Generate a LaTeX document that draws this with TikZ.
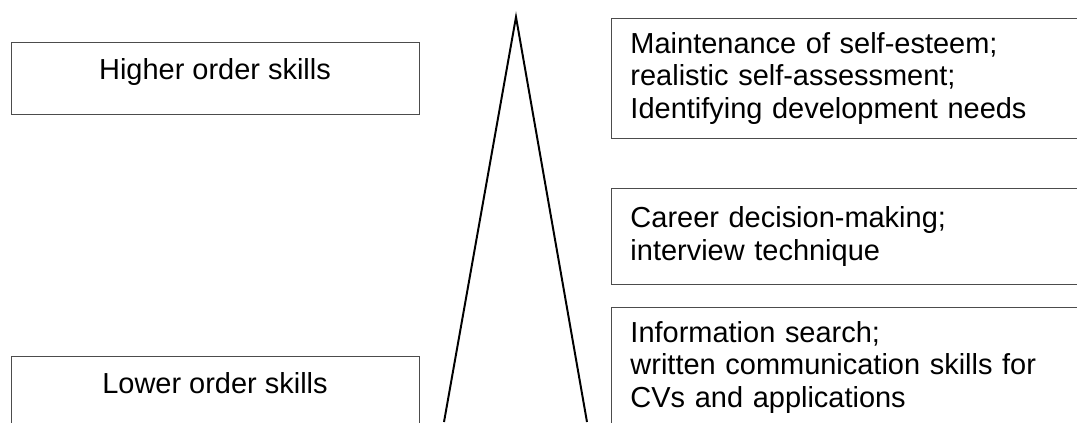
\documentclass[tikz,border=0pt]{standalone}
\usepackage{fontspec}
\setmainfont{Liberation Sans}

\begin{document}
\begin{tikzpicture}[
    level/.style={draw=black!70, line width=0.7pt, rectangle, minimum width=10.2cm, minimum height=1.8cm, inner sep=0pt, text height=0.5cm, text depth=0.45cm, font=\fontsize{20.6}{23.1}\selectfont},
    task/.style={draw=black!70, line width=0.7pt, rectangle, anchor=north west, inner xsep=0.475cm, inner ysep=0pt, text width=11.05cm, align=left, font=\fontsize{20.6}{23.1}\selectfont},
    spine/.style={line width=1.4pt, line join=miter}
]

    % MARCO Y RECORTE
    \useasboundingbox (0,0) rectangle (26.925,10.55);
    \clip (0,0) rectangle (26.925,10.55);

    % NIVELES A LA IZQUIERDA
    \node[level] (higher) at (5.375,8.6) {Higher order skills};
    \node[level] (lower) at (5.375,0.75) {Lower order skills};

    % TRIANGULO CENTRAL
    \coordinate (apex) at (12.9,10.125);
    \coordinate (baseL) at (11.1,0);
    \coordinate (baseR) at (14.675,0);
    \draw[spine] (baseL) -- (apex) -- (baseR);

    % TAREAS A LA DERECHA
    \node[task, minimum height=3cm] (esteem) at (15.275,10.1)
        {Maintenance of self-esteem;\\realistic self-assessment;\\Identifying development needs};
    \node[task, minimum height=2.4cm] (career) at (15.275,5.85)
        {Career decision-making;\\interview technique};
    \node[task, minimum height=3cm] (search) at (15.275,2.875)
        {Information search;\\written communication skills for\\CVs and applications};

\end{tikzpicture}
\end{document}
